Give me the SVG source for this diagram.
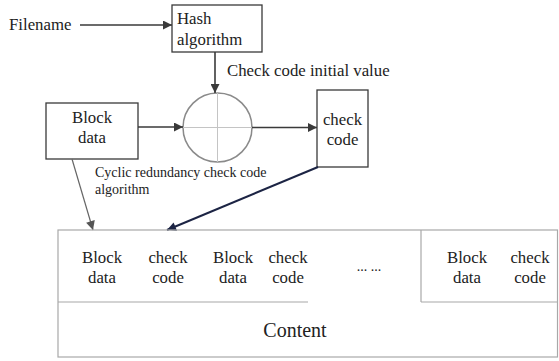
<svg xmlns="http://www.w3.org/2000/svg" width="559" height="361" viewBox="0 0 559 361" font-family="'Liberation Serif','Times New Roman',serif">
<style>
text{font-family:"Liberation Serif","Times New Roman",serif;fill:#222}
.t{font-size:16.8px}
.s{font-size:14px}
.c{text-anchor:middle}
.box{fill:#fff;stroke:#3a3a3a;stroke-width:1.3}
.tbl{fill:none;stroke:#a8a8a8;stroke-width:1.2}
.ln{stroke:#3a3a3a;stroke-width:1.6;fill:none}
</style>
<defs>
<marker id="ah" viewBox="0 0 10 10" refX="10" refY="5" markerWidth="10" markerHeight="9" markerUnits="userSpaceOnUse" orient="auto">
<path d="M0,0 L10,5 L0,10 z" fill="#3a3a3a"/>
</marker>
<marker id="ahg" viewBox="0 0 10 10" refX="10" refY="5" markerWidth="10" markerHeight="9" markerUnits="userSpaceOnUse" orient="auto">
<path d="M0,0 L10,5 L0,10 z" fill="#555"/>
</marker>
<marker id="ahn" viewBox="0 0 10 10" refX="10" refY="5" markerWidth="11" markerHeight="9" markerUnits="userSpaceOnUse" orient="auto">
<path d="M0,0 L10,5 L0,10 z" fill="#1c2444"/>
</marker>
</defs>
<rect width="559" height="361" fill="#fff"/>

<g id="filename">
<text class="t" x="9" y="30">Filename</text>
</g>

<g id="hash">
<rect class="box" x="172" y="5" width="90" height="47"/>
<text class="t" x="177" y="24">Hash</text>
<text class="t" x="177" y="45">algorithm</text>
</g>

<g id="xor">
<circle cx="217.5" cy="127.5" r="34.5" fill="#fff" stroke="#8a8a8a" stroke-width="1.5"/>
<line x1="183" y1="127.5" x2="252" y2="127.5" stroke="#c4c4c4" stroke-width="1"/>
<line x1="217.5" y1="93" x2="217.5" y2="162" stroke="#c4c4c4" stroke-width="1"/>
</g>

<g id="blockdata">
<rect class="box" x="46" y="103" width="92" height="56"/>
<text class="t c" x="92" y="123">Block</text>
<text class="t c" x="92" y="143">data</text>
</g>

<g id="checkcode">
<rect class="box" x="317" y="90" width="51" height="77"/>
<text class="t c" x="342.5" y="125">check</text>
<text class="t c" x="342.5" y="145">code</text>
</g>

<g id="labels">
<text class="t" x="227" y="76">Check code initial value</text>
<text class="s" x="95" y="177">Cyclic redundancy check code</text>
<text class="s" x="95" y="194">algorithm</text>
</g>

<g id="connectors">
<line class="ln" x1="80" y1="25" x2="172" y2="25" marker-end="url(#ah)"/>
<line class="ln" x1="215" y1="52" x2="215" y2="93" marker-end="url(#ah)"/>
<line class="ln" x1="138" y1="127" x2="183" y2="127" marker-end="url(#ah)"/>
<line class="ln" x1="252" y1="127.5" x2="317" y2="127.5" marker-end="url(#ah)"/>
<line x1="72" y1="159" x2="93" y2="230" stroke="#666" stroke-width="1.2" marker-end="url(#ahg)"/>
<line x1="318" y1="167" x2="167" y2="230" stroke="#1c2444" stroke-width="2" marker-end="url(#ahn)"/>
</g>

<g id="table">
<rect class="tbl" x="58" y="230" width="499.5" height="127"/>
<line class="tbl" x1="58" y1="302" x2="308" y2="302"/>
<line class="tbl" x1="421" y1="230" x2="421" y2="302"/>
<line class="tbl" x1="421" y1="302" x2="557.5" y2="302"/>
<text class="t c" x="102" y="263">Block</text>
<text class="t c" x="102" y="283">data</text>
<text class="t c" x="168" y="263">check</text>
<text class="t c" x="168" y="283">code</text>
<text class="t c" x="233" y="263">Block</text>
<text class="t c" x="233" y="283">data</text>
<text class="t c" x="288" y="263">check</text>
<text class="t c" x="288" y="283">code</text>
<text class="s c" x="369" y="271">... ...</text>
<text class="t c" x="467" y="263">Block</text>
<text class="t c" x="467" y="283">data</text>
<text class="t c" x="530" y="263">check</text>
<text class="t c" x="530" y="283">code</text>
<text class="c" x="295" y="337" style="font-size:20px">Content</text>
</g>
</svg>
